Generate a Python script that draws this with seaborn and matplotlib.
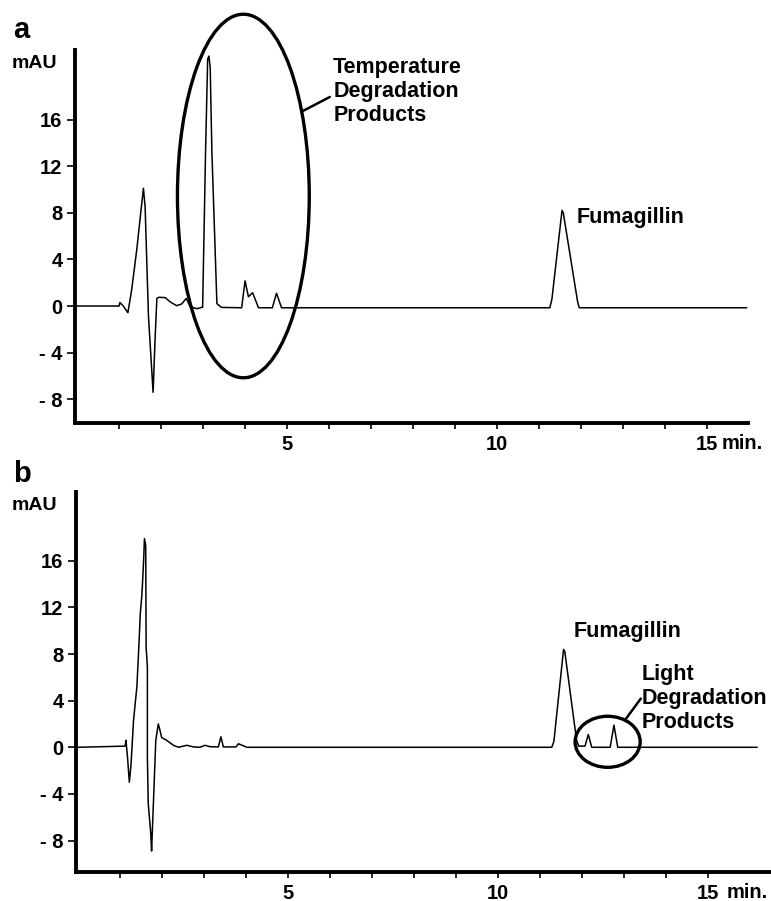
import matplotlib
matplotlib.use('Agg')
import matplotlib.pyplot as plt
import seaborn as sns
import pandas as pd
from matplotlib.patches import Ellipse

# ---- data (time in min, signal in mAU) ----
top_time = [0.00, 1.00, 1.02, 1.10, 1.21, 1.30, 1.42, 1.54, 1.58, 1.62, 1.70, 1.81,
            1.86, 1.90, 1.95, 2.10, 2.21, 2.37, 2.49, 2.60, 2.69, 2.85, 2.99, 3.06,
            3.11, 3.14, 3.17, 3.21, 3.33, 3.44, 3.92, 4.00, 4.08, 4.18, 4.32, 4.65,
            4.75, 4.87, 11.26, 11.31, 11.55, 11.58, 11.92, 11.96, 15.95]
top_mau = [0.0, 0.0, 0.3, 0.0, -0.57, 1.4, 4.8, 8.8, 10.1, 8.5, -0.9, -7.4,
           -2.6, 0.65, 0.75, 0.72, 0.37, 0.03, 0.17, 0.65, -0.05, -0.23, -0.1, 13.3,
           21.2, 21.45, 20.5, 13.3, 0.2, -0.12, -0.15, 2.16, 0.8, 1.14, -0.15, -0.15,
           1.09, -0.15, -0.15, 0.6, 8.2, 8.0, 0.4, -0.15, -0.15]

bottom_time = [0.00, 1.12, 1.14, 1.18, 1.22, 1.26, 1.32, 1.40, 1.45, 1.48, 1.52, 1.56,
               1.58, 1.61, 1.62, 1.65, 1.65, 1.67, 1.73, 1.75, 1.79, 1.85, 1.91, 1.95,
               1.99, 2.11, 2.27, 2.39, 2.59, 2.75, 2.90, 3.02, 3.14, 3.34, 3.40, 3.46,
               3.76, 3.82, 4.02, 11.28, 11.33, 11.56, 11.59, 11.87, 11.92, 12.07, 12.15,
               12.23, 12.67, 12.76, 12.85, 16.17]
bottom_mau = [0.0, 0.1, 0.6, -1.0, -3.0, -1.5, 2.3, 5.2, 8.9, 11.4, 13.1, 16.0,
              17.9, 17.3, 8.6, 6.9, -0.9, -4.8, -7.4, -8.9, -5.1, 0.6, 2.0, 1.45,
              0.83, 0.6, 0.17, 0.0, 0.17, 0.03, 0.0, 0.17, 0.05, 0.03, 0.9, 0.03,
              0.03, 0.3, 0.0, 0.0, 0.5, 8.4, 8.2, 0.6, 0.1, 0.1, 1.1,
              0.0, 0.0, 1.9, 0.0, 0.0]

y_ticks = [-8, -4, 0, 4, 8, 12, 16]
y_tick_labels = ['- 8', '- 4', '0', '4', '8', '12', '16']
x_ticks = list(range(1, 16))
x_tick_labels = [str(t) if t in (5, 10, 15) else '' for t in x_ticks]

panel_letters = ['a', 'b']
top_label_lines = ['Temperature', 'Degradation', 'Products']
bottom_label_lines = ['Light', 'Degradation', 'Products']
peak_name = 'Fumagillin'

# ---- style ----
sns.set_style('ticks')
plt.rcParams['font.family'] = ['Liberation Sans', 'DejaVu Sans']
plt.rcParams['font.weight'] = 'bold'
plt.rcParams['text.color'] = 'black'
plt.rcParams['axes.labelcolor'] = 'black'
plt.rcParams['xtick.color'] = 'black'
plt.rcParams['ytick.color'] = 'black'

W, H = 771, 901
fig = plt.figure(figsize=(W / 100, H / 100), dpi=100)
fig.patch.set_facecolor('white')

ax_a = fig.add_axes([75 / W, 1 - 423 / H, (748 - 75) / W, (423 - 50) / H])
ax_b = fig.add_axes([76 / W, 1 - 872 / H, (W - 76) / W, (872 - 492) / H])

df_a = pd.DataFrame({'time': top_time, 'mAU': top_mau})
df_b = pd.DataFrame({'time': bottom_time, 'mAU': bottom_mau})

sns.lineplot(data=df_a, x='time', y='mAU', ax=ax_a, color='black', linewidth=1.1,
             estimator=None, sort=False)
sns.lineplot(data=df_b, x='time', y='mAU', ax=ax_b, color='black', linewidth=1.1,
             estimator=None, sort=False)


def style(ax, xlim, ylim):
    ax.set_xlim(*xlim)
    ax.set_ylim(*ylim)
    ax.set_facecolor('white')
    for s in ['top', 'right']:
        ax.spines[s].set_visible(False)
    for s in ['left', 'bottom']:
        ax.spines[s].set_linewidth(2.8)
        ax.spines[s].set_color('black')
    ax.set_xticks(x_ticks)
    ax.set_xticklabels(x_tick_labels)
    ax.set_yticks(y_ticks)
    ax.set_yticklabels(y_tick_labels)
    ax.tick_params(axis='x', direction='out', length=4, width=1.2, pad=4.5,
                   labelsize=14.5, colors='black')
    ax.tick_params(axis='y', direction='out', length=6, width=1.2, pad=3.0,
                   labelsize=14.5, colors='black')
    for lab in ax.get_xticklabels() + ax.get_yticklabels():
        lab.set_fontweight('bold')
    ax.set_xlabel('')
    ax.set_ylabel('')


style(ax_a, (-0.05, 15.98), (-10.04, 21.97))
style(ax_b, (-0.05, 16.5), (-10.7, 21.9))

# ---- annotations, panel a ----
ax_a.add_patch(Ellipse((3.96, 9.44), 3.14, 31.2, fill=False, edgecolor='black',
                       linewidth=2.4, clip_on=False))
ax_a.plot([5.38, 6.02], [16.74, 17.94], color='black', linewidth=1.8, clip_on=False)
for txt, yv in zip(top_label_lines, [20.0, 17.94, 15.88]):
    ax_a.text(6.10, yv, txt, ha='left', va='baseline', fontsize=15.5,
              fontweight='bold', color='black')
ax_a.text(11.9, 7.1, peak_name, ha='left', va='baseline', fontsize=15.5,
          fontweight='bold', color='black')

# ---- annotations, panel b ----
ax_b.add_patch(Ellipse((12.61, 0.47), 1.55, 4.38, fill=False, edgecolor='black',
                       linewidth=2.4, clip_on=False))
ax_b.plot([13.02, 13.40], [2.32, 4.18], color='black', linewidth=1.8, clip_on=False)
for txt, yv in zip(bottom_label_lines, [5.81, 3.75, 1.69]):
    ax_b.text(13.42, yv, txt, ha='left', va='baseline', fontsize=15.5,
              fontweight='bold', color='black')
ax_b.text(11.81, 9.47, peak_name, ha='left', va='baseline', fontsize=15.5,
          fontweight='bold', color='black')

# ---- figure texts ----
fig.text(13 / W, 1 - 38 / H, panel_letters[0], ha='left', va='baseline',
         fontsize=21, fontweight='bold', color='black')
fig.text(13 / W, 1 - 482 / H, panel_letters[1], ha='left', va='baseline',
         fontsize=21, fontweight='bold', color='black')
fig.text(12 / W, 1 - 68 / H, 'mAU', ha='left', va='baseline', fontsize=14,
         fontweight='bold', color='black')
fig.text(12 / W, 1 - 510 / H, 'mAU', ha='left', va='baseline', fontsize=14,
         fontweight='bold', color='black')
fig.text(722 / W, 1 - 449 / H, 'min.', ha='left', va='baseline', fontsize=14.5,
         fontweight='bold', color='black')
fig.text(727 / W, 1 - 898 / H, 'min.', ha='left', va='baseline', fontsize=14.5,
         fontweight='bold', color='black')

fig.savefig('out.png', dpi=100, facecolor='white')
